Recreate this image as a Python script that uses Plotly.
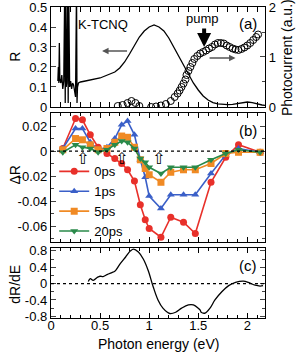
import plotly.graph_objects as go

# ---------------- data ----------------
# Panel (a): reflectivity R of K-TCNQ
E_R = [0.07, 0.075, 0.08, 0.085, 0.09, 0.10, 0.11, 0.12, 0.13, 0.14, 0.145, 0.15, 0.155, 0.16,
       0.17, 0.175, 0.18, 0.19, 0.20, 0.21, 0.22, 0.23, 0.25, 0.26, 0.265, 0.27, 0.28, 0.30,
       0.35, 0.40, 0.45, 0.50, 0.55, 0.60, 0.65, 0.70, 0.75, 0.80, 0.85, 0.90, 0.95, 1.00,
       1.05, 1.10, 1.15, 1.20, 1.25, 1.30, 1.35, 1.40, 1.45, 1.50, 1.55, 1.60, 1.65, 1.70,
       1.75, 1.80, 1.85, 1.90, 1.95, 2.00, 2.05, 2.10, 2.15, 2.18]
R = [0.13, 0.20, 0.12, 0.32, 0.14, 0.12, 0.16, 0.09, 0.13, 0.60, 0.02, 0.60, 0.10, 0.12,
     0.60, 0.02, 0.60, 0.10, 0.13, 0.09, 0.12, 0.11, 0.05, 0.60, 0.02, 0.10, 0.12, 0.125,
     0.13, 0.135, 0.14, 0.145, 0.155, 0.165, 0.175, 0.195, 0.225, 0.265, 0.31, 0.35, 0.38, 0.40,
     0.41, 0.40, 0.38, 0.345, 0.30, 0.255, 0.21, 0.165, 0.12, 0.085, 0.055, 0.035, 0.022, 0.016,
     0.013, 0.012, 0.013, 0.016, 0.022, 0.025, 0.022, 0.015, 0.010, 0.008]
R_ticks = [0, 0.1, 0.2, 0.3, 0.4, 0.5]
R_ticktext = ["0", "0.1", "0.2", "0.3", "0.4", "0.5"]

# Panel (a): photocurrent (a.u.)
E_pc = [0.68, 0.73, 0.78, 0.82, 0.86, 0.90, 1.02, 1.07, 1.12, 1.17, 1.22, 1.26, 1.29, 1.31,
        1.33, 1.35, 1.37, 1.38, 1.40, 1.42, 1.44, 1.46, 1.49, 1.52, 1.55, 1.58, 1.61, 1.64,
        1.67, 1.70, 1.73, 1.76, 1.79, 1.82, 1.85, 1.88, 1.91, 1.94, 1.97, 2.00, 2.03, 2.06,
        2.09, 2.11]
PC = [0.02, 0.04, 0.08, 0.12, 0.08, 0.02, 0.0, 0.01, 0.03, 0.06, 0.12, 0.20, 0.27, 0.33,
      0.40, 0.47, 0.55, 0.64, 0.72, 0.80, 0.88, 0.96, 1.02, 1.07, 1.10, 1.13, 1.17, 1.20,
      1.25, 1.28, 1.28, 1.27, 1.23, 1.20, 1.17, 1.15, 1.14, 1.16, 1.19, 1.23, 1.28, 1.34,
      1.40, 1.45]
PC_ticks = [0, 1, 2]
PC_ticktext = ["0", "1", "2"]

# Panel (b): transient reflectivity change
E_b = [0.12, 0.25, 0.32, 0.40, 0.48, 0.57, 0.65, 0.72, 0.78, 0.85, 0.91, 0.96, 1.00,
       1.12, 1.22, 1.35, 1.47, 1.63, 1.78, 1.91, 2.13]
dR_0ps = [0.002, 0.026, 0.025, 0.013, 0.003, -0.002, -0.006, -0.010, -0.015, -0.024, -0.043,
          -0.055, -0.062, -0.069, -0.053, -0.057, -0.066, -0.025, -0.005, 0.005, -0.001]
dR_1ps = [0.002, 0.018, 0.018, 0.007, 0.001, 0.003, 0.010, 0.021, 0.024, 0.013, -0.007,
          -0.021, -0.036, -0.046, -0.035, -0.035, -0.035, -0.018, -0.003, 0.002, -0.001]
dR_5ps = [0.001, 0.010, 0.009, 0.005, 0.001, 0.002, 0.007, 0.012, 0.011, 0.003, -0.007,
          -0.014, -0.019, -0.025, -0.017, -0.015, -0.015, -0.010, -0.002, -0.001, -0.001]
dR_20ps = [-0.001, 0.005, 0.003, 0.002, -0.001, 0.001, 0.005, 0.008, 0.007, 0.002, -0.006,
           -0.009, -0.013, -0.018, -0.013, -0.013, -0.013, -0.007, -0.002, 0.001, -0.001]
series_names = ["0ps", "1ps", "5ps", "20ps"]
series_colors = ["#e8302a", "#3a5fc8", "#f08a24", "#2a8a4a"]
series_symbols = ["circle", "triangle-up", "square", "triangle-down"]
pump_E = [0.32, 0.72, 1.09]

# Panel (c): derivative dR/dE
E_c = [0.38, 0.40, 0.43, 0.47, 0.50, 0.53, 0.57, 0.62, 0.65, 0.70, 0.76, 0.81, 0.84, 0.89,
       0.94, 0.99, 1.04, 1.09, 1.14, 1.21, 1.27, 1.33, 1.40, 1.45, 1.50, 1.52, 1.53, 1.57,
       1.62, 1.67, 1.74, 1.81, 1.88, 1.96, 2.01, 2.08, 2.13, 2.16]
dRdE = [0.05, 0.12, 0.08, 0.15, 0.18, 0.17, 0.22, 0.27, 0.30, 0.47, 0.65, 0.80, 0.84, 0.77,
        0.60, 0.32, -0.07, -0.40, -0.60, -0.73, -0.70, -0.60, -0.52, -0.52, -0.60, -0.65,
        -0.70, -0.72, -0.60, -0.40, -0.20, -0.05, 0.03, 0.06, 0.03, -0.04, -0.06, -0.05]

# ---------------- figure ----------------
FONT = "Liberation Sans, Arial, Helvetica, sans-serif"
fig = go.Figure()

# (a)
fig.add_trace(go.Scatter(x=E_R, y=R, mode="lines", line=dict(color="black", width=1.3),
                         xaxis="x3", yaxis="y3", showlegend=False))
fig.add_trace(go.Scatter(x=E_pc, y=PC, mode="markers",
                         marker=dict(symbol="circle-open", size=7, color="black",
                                     line=dict(width=1, color="black")),
                         xaxis="x3", yaxis="y4", showlegend=False))

# (b)
for name, vals, col, sym in zip(series_names, [dR_0ps, dR_1ps, dR_5ps, dR_20ps],
                                series_colors, series_symbols):
    fig.add_trace(go.Scatter(x=E_b, y=vals, mode="lines+markers", name=name,
                             line=dict(color=col, width=1.6),
                             marker=dict(symbol=sym, size=7, color=col),
                             xaxis="x2", yaxis="y2"))

# (c)
fig.add_trace(go.Scatter(x=E_c, y=dRdE, mode="lines", line=dict(color="black", width=1.3),
                         xaxis="x", yaxis="y", showlegend=False, line_shape="spline"))

xr = [0, 2.18]
tickfont = dict(family=FONT, size=13, color="black")
common_x = dict(range=xr, showline=True, linecolor="black", linewidth=1.3, mirror="allticks",
                ticks="inside", ticklen=5, tickcolor="black", dtick=0.5, tick0=0,
                minor=dict(ticks="inside", ticklen=3, dtick=0.1, tickcolor="black"),
                showgrid=False, zeroline=False, tickfont=tickfont, automargin=False)

dom_a = [0.6785, 1.0]
dom_b = [0.2444, 0.659]
dom_c = [0.0, 0.2251]

fig.update_layout(
    template="none",
    width=298, height=352,
    margin=dict(l=51, r=33, t=7, b=34, autoexpand=False),
    paper_bgcolor="white", plot_bgcolor="white",
    font=dict(family=FONT, size=13, color="black"),
    xaxis=dict(**common_x, anchor="y", showticklabels=True, ticklabelstandoff=-5),
    xaxis2=dict(**common_x, anchor="y2", showticklabels=False),
    xaxis3=dict(**common_x, anchor="y3", showticklabels=False),
    yaxis=dict(domain=dom_c, range=[-0.84, 0.87], showline=True, linecolor="black",
               linewidth=1.3, mirror="allticks", ticks="inside", ticklen=5,
               tickvals=[-0.8, -0.4, 0, 0.4, 0.8], ticktext=["-0.8", "-0.4", "0", "0.4", "0.8"],
               minor=dict(ticks="inside", ticklen=3, tickvals=[-0.6, -0.2, 0.2, 0.6]),
               showgrid=False, zeroline=False, tickfont=tickfont, anchor="x", automargin=False),
    yaxis2=dict(domain=dom_b, range=[-0.0728, 0.0304], showline=True, linecolor="black",
                linewidth=1.3, mirror="allticks", ticks="inside", ticklen=5,
                tickvals=[-0.06, -0.04, -0.02, 0, 0.02],
                ticktext=["-0.06", "-0.04", "-0.02", "0", "0.02"],
                minor=dict(ticks="inside", ticklen=3, tickvals=[-0.07, -0.05, -0.03, -0.01, 0.01, 0.03]),
                showgrid=False, zeroline=False, tickfont=tickfont, anchor="x2", automargin=False),
    yaxis3=dict(domain=dom_a, range=[0, 0.5], showline=True, linecolor="black",
                linewidth=1.3, mirror=True, ticks="inside", ticklen=5,
                tickvals=R_ticks, ticktext=R_ticktext, ticklabeloverflow="allow",
                showgrid=False, zeroline=False, tickfont=tickfont, anchor="x3", automargin=False),
    yaxis4=dict(domain=dom_a, range=[0, 2], overlaying="y3", side="right", showline=True,
                linecolor="black", linewidth=1.3, ticks="inside", ticklen=5,
                tickvals=PC_ticks, ticktext=PC_ticktext, ticklabeloverflow="allow",
                minor=dict(ticks="inside", ticklen=3, tickvals=[0.5, 1.5]),
                showgrid=False, zeroline=False, tickfont=tickfont, anchor="x3", automargin=False),
    legend=dict(x=0.015, y=0.375, xanchor="left", yanchor="middle", bgcolor="rgba(0,0,0,0)",
                font=dict(family=FONT, size=13, color="black"), tracegroupgap=0,
                itemwidth=30, borderwidth=0),
)

# dotted zero lines
for xref, yref in [("x2 domain", "y2"), ("x domain", "y")]:
    fig.add_shape(type="line", xref=xref, yref=yref, x0=0, x1=1, y0=0, y1=0,
                  line=dict(color="black", width=1.2, dash="dot"))

ann = []
def txt(x, y, s, size=14, **kw):
    d = dict(x=x, y=y, xref="paper", yref="paper", text=s, showarrow=False,
             xanchor="center", yanchor="middle",
             font=dict(family=FONT, size=size, color="black"))
    d.update(kw)
    ann.append(d)

txt(0.92, 0.948, "(a)", size=15)
txt(0.92, 0.6045, "(b)", size=15)
txt(0.92, 0.170, "(c)", size=15)
txt(0.243, 0.945, "K-TCNQ", size=13)
txt(0.71, 0.962, "pump", size=13)
txt(-0.17, 0.839, "R", size=14, textangle=-90)
txt(-0.17, 0.46, "ΔR", size=14, textangle=-90)
txt(-0.17, 0.109, "dR/dE", size=14, textangle=-90)
txt(1.103, 0.836, "Photocurrent (a.u.)", size=14, textangle=-90)
txt(0.5, -0.0836, "Photon energy (eV)", size=14)

# arrows in (a)
ann.append(dict(x=0.52, y=0.28, ax=0.79, ay=0.28, xref="x3", yref="y3", axref="x3", ayref="y3",
                showarrow=True, arrowhead=2, arrowsize=1, arrowwidth=1.3, arrowcolor="#555555",
                text=""))
ann.append(dict(x=1.88, y=0.245, ax=1.60, ay=0.245, xref="x3", yref="y3", axref="x3", ayref="y3",
                showarrow=True, arrowhead=2, arrowsize=1, arrowwidth=1.3, arrowcolor="#555555",
                text=""))
ann.append(dict(x=1.56, y=0.30, ax=1.56, ay=0.40, xref="x3", yref="y3", axref="x3", ayref="y3",
                showarrow=True, arrowhead=2, arrowsize=0.7, arrowwidth=4, arrowcolor="black",
                text=""))

# hollow pump arrows in (b)
for e in pump_E:
    ann.append(dict(x=e, y=-0.006, xref="x2", yref="y2", text="⇧", showarrow=False,
                    xanchor="center", yanchor="middle",
                    font=dict(family="DejaVu Sans", size=16, color="black")))

fig.update_layout(annotations=ann)
fig.write_html("out.html", config={"displayModeBar": False},
               post_script="document.body.style.margin='0px';document.body.style.padding='0px';")
